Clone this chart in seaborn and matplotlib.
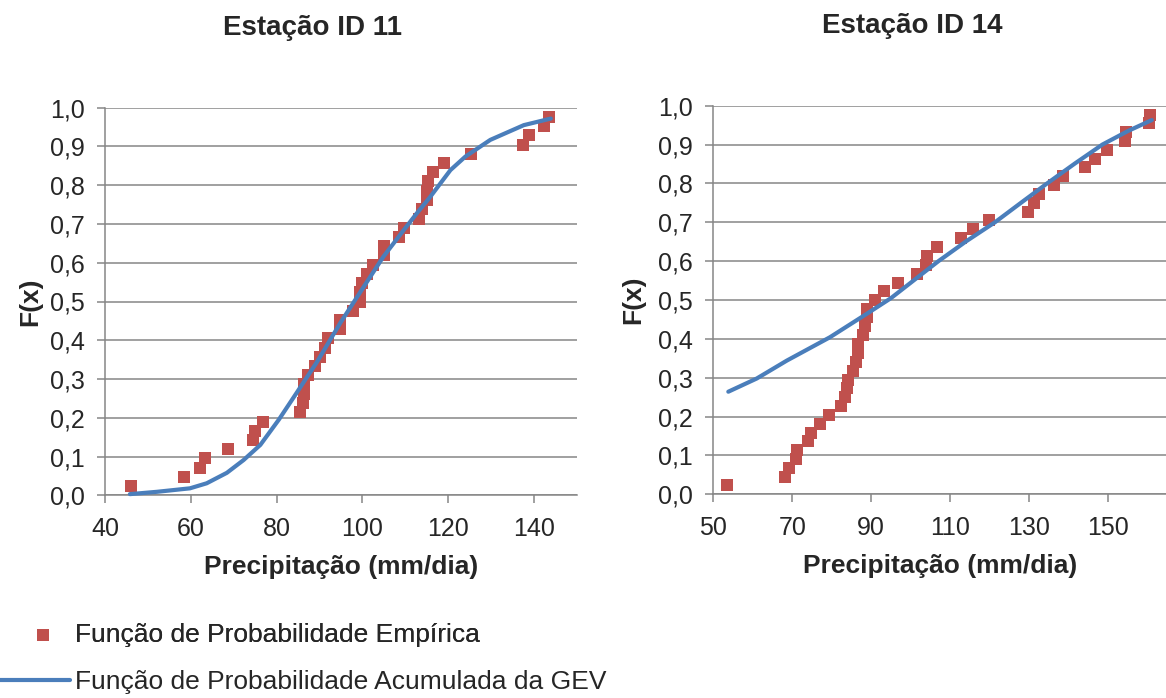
import matplotlib
matplotlib.use("Agg")
import matplotlib.pyplot as plt
from matplotlib.ticker import FixedLocator, FixedFormatter
import seaborn as sns
import pandas as pd

# ---------------- data ----------------
titles = ["Estação ID 11", "Estação ID 14"]
x_label = "Precipitação (mm/dia)"
y_label = "F(x)"
legend_labels = ["Função de Probabilidade Empírica", "Função de Probabilidade Acumulada da GEV"]

y_ticks = [0.0, 0.1, 0.2, 0.3, 0.4, 0.5, 0.6, 0.7, 0.8, 0.9, 1.0]
y_tick_labels = ["0,0", "0,1", "0,2", "0,3", "0,4", "0,5", "0,6", "0,7", "0,8", "0,9", "1,0"]
x_ticks_11 = [40, 60, 80, 100, 120, 140]
x_ticks_14 = [50, 70, 90, 110, 130, 150]

# Estação ID 11 - empirical
emp11_x = [46.0, 58.5, 62.2, 63.3, 68.7, 74.5, 74.9, 76.9, 85.4, 86.1,
           86.3, 86.4, 87.2, 89.0, 90.2, 91.3, 92.0, 94.8, 94.8, 97.9,
           99.4, 99.5, 99.9, 101.1, 102.5, 105.0, 105.0, 108.5, 109.6, 113.1,
           113.9, 115.0, 115.1, 115.2, 116.5, 119.0, 125.2, 137.5, 138.9, 142.4, 143.4]
emp11_f = [0.024, 0.048, 0.071, 0.095, 0.119, 0.143, 0.167, 0.190, 0.214, 0.238,
           0.262, 0.286, 0.310, 0.333, 0.357, 0.381, 0.405, 0.429, 0.452, 0.476,
           0.500, 0.524, 0.548, 0.571, 0.595, 0.619, 0.643, 0.667, 0.690, 0.714,
           0.738, 0.762, 0.786, 0.810, 0.833, 0.857, 0.881, 0.905, 0.929, 0.952, 0.976]
# Estação ID 11 - GEV
gev11_x = [45.8, 52.1, 59.8, 63.7, 68.4, 72.3, 76.2, 80.5, 84.7, 89.4, 94.8,
           100.3, 104.9, 109.6, 112.7, 115.8, 120.5, 124.0, 129.8, 137.6, 143.9]
gev11_f = [0.003, 0.009, 0.018, 0.031, 0.058, 0.091, 0.130, 0.195, 0.265, 0.344, 0.444,
           0.538, 0.616, 0.684, 0.728, 0.770, 0.839, 0.874, 0.917, 0.955, 0.972]

# Estação ID 14 - empirical
emp14_x = [53.5, 68.2, 69.2, 70.9, 71.1, 74.0, 74.7, 77.0, 79.4, 82.3,
           83.3, 83.8, 84.0, 85.4, 86.1, 86.6, 86.7, 87.8, 88.4, 88.8,
           89.0, 90.9, 93.2, 96.8, 101.6, 103.8, 104.0, 106.6, 112.7, 115.7,
           119.8, 129.6, 131.2, 132.5, 136.3, 138.6, 144.1, 146.6, 149.6, 154.2,
           154.5, 160.4, 160.6]
emp14_f = [0.023, 0.045, 0.068, 0.091, 0.114, 0.136, 0.159, 0.182, 0.205, 0.227,
           0.250, 0.273, 0.295, 0.318, 0.341, 0.364, 0.386, 0.409, 0.432, 0.455,
           0.477, 0.500, 0.523, 0.545, 0.568, 0.591, 0.614, 0.636, 0.659, 0.682,
           0.705, 0.727, 0.750, 0.773, 0.795, 0.818, 0.841, 0.864, 0.886, 0.909,
           0.932, 0.955, 0.977]
# Estação ID 14 - GEV
gev14_x = [53.8, 61.0, 68.6, 79.5, 89.7, 95.0, 103.2, 107.0, 114.0, 121.3,
           128.0, 134.5, 141.5, 148.5, 155.0, 161.0]
gev14_f = [0.264, 0.298, 0.344, 0.404, 0.470, 0.505, 0.570, 0.600, 0.651, 0.700,
           0.751, 0.800, 0.851, 0.900, 0.935, 0.963]

# ---------------- style ----------------
sns.set_style("white")
plt.rcParams["font.family"] = ["Liberation Sans", "DejaVu Sans"]

RED = "#C0504D"
BLUE = "#4A7EBB"
GRID = "#868686"

TICK_FS = 18
LABEL_FS = 19
TITLE_FS = 20
LEG_FS = 19

W, H = 1166, 698
fig = plt.figure(figsize=(W / 100, H / 100), dpi=100)

def px_axes(l, t, r, b):
    return fig.add_axes([l / W, 1 - b / H, (r - l) / W, (b - t) / H])

ax1 = px_axes(105, 107.7, 577, 495.3)
ax2 = px_axes(713.3, 105.7, 1166, 494.3)

panels = [
    (ax1, emp11_x, emp11_f, gev11_x, gev11_f, x_ticks_11, (40, 150), titles[0], -0.133),
    (ax2, emp14_x, emp14_f, gev14_x, gev14_f, x_ticks_14, (50, 164.6), titles[1], -0.151),
]

for ax, ex, ef, gx, gf, xt, xl, title, ylx in panels:
    emp = pd.DataFrame({"x": ex, "F": ef})
    gev = pd.DataFrame({"x": gx, "F": gf})
    sns.scatterplot(data=emp, x="x", y="F", ax=ax, marker="s", s=86, color=RED,
                    linewidth=0, zorder=3, label=legend_labels[0], legend=False)
    sns.lineplot(data=gev, x="x", y="F", ax=ax, color=BLUE, linewidth=3.0,
                 sort=False, estimator=None, zorder=4, label=legend_labels[1], legend=False)
    ax.set_xlim(*xl)
    ax.set_ylim(0, 1.0)
    ax.xaxis.set_major_locator(FixedLocator(xt))
    ax.yaxis.set_major_locator(FixedLocator(y_ticks))
    ax.yaxis.set_major_formatter(FixedFormatter(y_tick_labels))
    ax.grid(axis="y", color=GRID, linewidth=1.1)
    ax.grid(axis="x", visible=False)
    ax.set_axisbelow(True)
    for s in ["top", "right"]:
        ax.spines[s].set_visible(False)
    for s in ["left", "bottom"]:
        ax.spines[s].set_color(GRID)
        ax.spines[s].set_linewidth(1.1)
    ax.tick_params(axis="y", direction="out", length=5.5, width=1.1, color=GRID,
                   labelsize=TICK_FS, pad=9, left=True)
    ax.tick_params(axis="x", direction="out", length=5.5, width=1.1, color=GRID,
                   labelsize=TICK_FS, pad=10, bottom=True)
    ax.set_xlabel(x_label, fontsize=LABEL_FS, fontweight="bold", labelpad=10)
    ax.set_ylabel(y_label, fontsize=LABEL_FS, fontweight="bold")
    ax.yaxis.set_label_coords(ylx, 0.5)
    ax.text(0.44, 1.205, title, transform=ax.transAxes, ha="center", va="center",
            fontsize=TITLE_FS, fontweight="bold")
    for cl in ax.get_lines():
        cl.set_clip_on(False)

h_sc = ax1.collections[0]
h_ln = ax1.get_lines()[0]

fs_px = LEG_FS * 100 / 72
leg1 = fig.legend([h_sc], [legend_labels[0]], loc="center left",
                  bbox_to_anchor=(33.3 / W, 1 - 635 / H), frameon=False, fontsize=LEG_FS,
                  handlelength=20 / fs_px, handletextpad=21.7 / fs_px, borderpad=0,
                  borderaxespad=0)
fig.add_artist(leg1)
leg2 = fig.legend([h_ln], [legend_labels[1]], loc="center left",
                  bbox_to_anchor=(0.0, 1 - 682 / H), frameon=False, fontsize=LEG_FS,
                  handlelength=70 / fs_px, handletextpad=5 / fs_px, borderpad=0,
                  borderaxespad=0)

fig.savefig("out.png", dpi=100)
